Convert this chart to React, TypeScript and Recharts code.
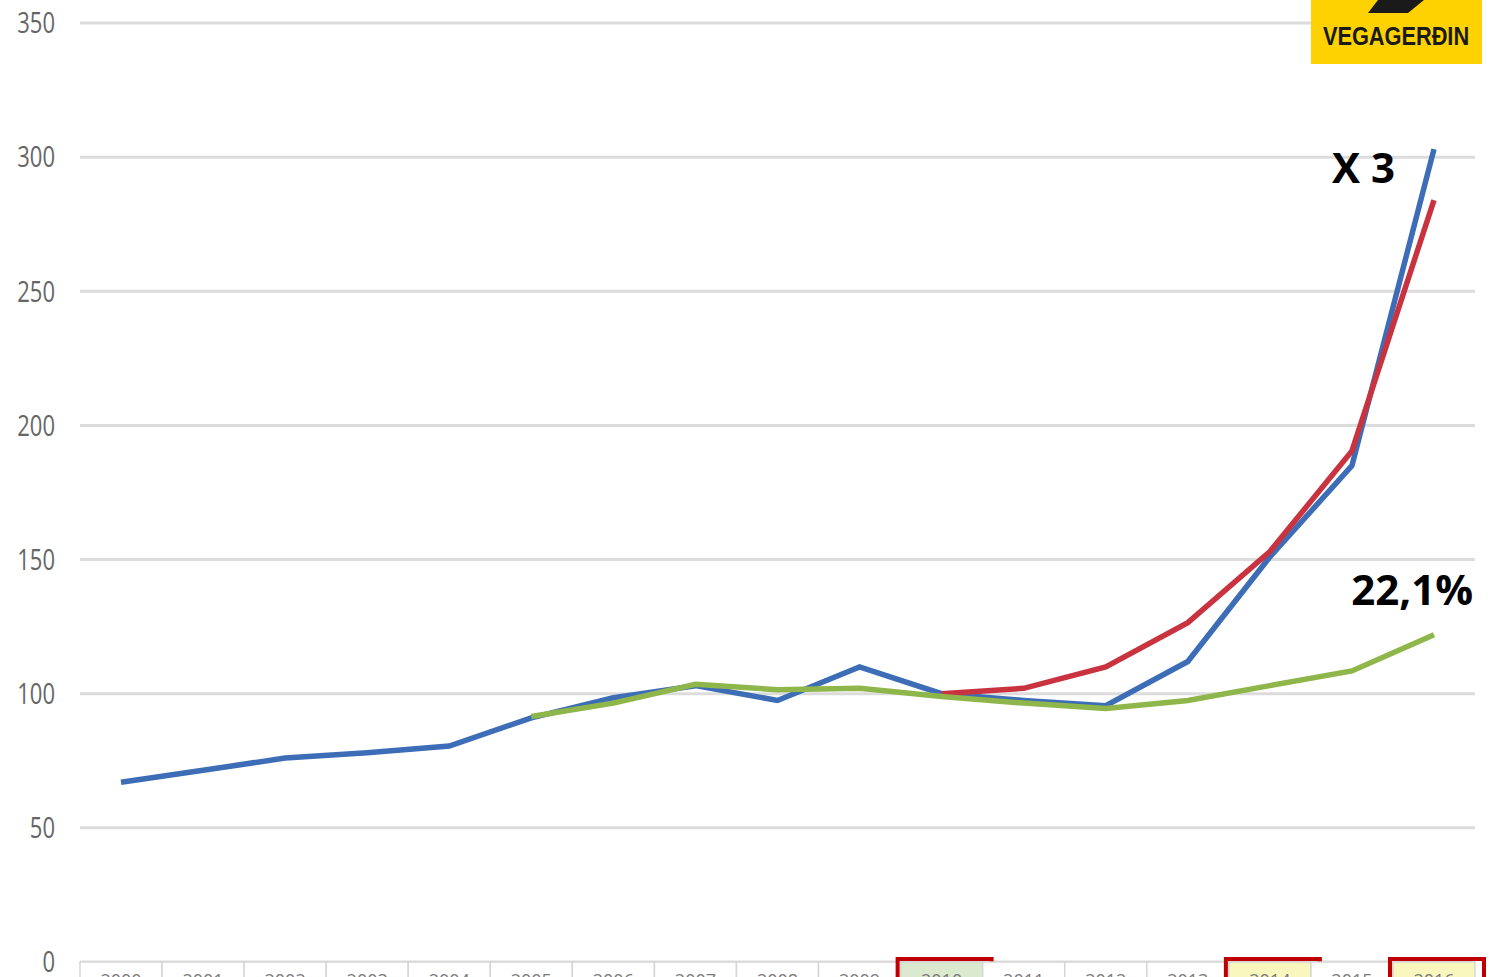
import React from 'react';
import { LineChart, Line, XAxis, YAxis, CartesianGrid } from 'recharts';

const YEARS = ['2000', '2001', '2002', '2003', '2004', '2005', '2006', '2007', '2008', '2009', '2010', '2011', '2012', '2013', '2014', '2015', '2016'];
const BLUE_SERIES = [67, 71.5, 76, 78, 80.5, 91, 98.5, 103, 97.5, 110, 100, 97.5, 95.5, 112, 151, 185, 303];
const RED_SERIES = [null, null, null, null, null, null, null, null, null, null, 100, 102, 110, 126.5, 153, 190.5, 284];
const GREEN_SERIES = [null, null, null, null, null, 91.5, 96.5, 103.5, 101.5, 102, 99, 96.5, 94.5, 97.5, 103, 108.5, 122];
const Y_TICKS = [0, 50, 100, 150, 200, 250, 300, 350];
const GREEN_CELLS = ['2010'];
const YELLOW_CELLS = ['2014', '2016'];

const data = YEARS.map((year, i) => ({
  year,
  blue: BLUE_SERIES[i],
  red: RED_SERIES[i],
  green: GREEN_SERIES[i],
}));

const YearCell = (props: any) => {
  const { x, y, payload } = props;
  const year = payload.value;
  const isGreen = GREEN_CELLS.includes(year);
  const isYellow = YELLOW_CELLS.includes(year);
  const fill = isGreen ? '#dbe9cf' : isYellow ? '#f9f7bd' : '#ffffff';
  return (
    <g>
      <rect x={x - 41} y={y} width={82} height={40} fill={fill} stroke="#d6d6d6" strokeWidth={1.5} />
      <text x={x} y={y + 25} textAnchor="middle" fontSize={18} fontFamily="Open Sans" fill="#7a7a7a">
        {year}
      </text>
      {(isGreen || isYellow) && (
        <rect x={x - 44} y={y - 3} width={94} height={50} fill="none" stroke="#c00000" strokeWidth={4} />
      )}
    </g>
  );
};

const ValueTick = (props: any) => {
  const { x, y, payload } = props;
  return (
    <text
      transform={`translate(${x}, ${y}) scale(1, 1.3)`}
      textAnchor="end"
      dy="0.36em"
      fontSize={22}
      fontFamily="Open Sans"
      fill="#666666"
    >
      {payload.value}
    </text>
  );
};

const App: React.FC = () => {
  return (
    <div style={{ position: 'absolute', left: 0, top: 0, width: 1491, height: 977, background: '#fff' }}>
      <LineChart width={1491} height={977} data={data} margin={{ top: 23, right: 16, bottom: 0, left: 0 }}>
        <CartesianGrid vertical={false} stroke="#dcdcdc" strokeWidth={3} />
        <XAxis
          dataKey="year"
          axisLine={false}
          tickLine={false}
          tickSize={0}
          tickMargin={0}
          height={15}
          interval={0}
          padding={{ left: 41, right: 41 }}
          tick={<YearCell />}
        />
        <YAxis
          domain={[0, 350]}
          ticks={Y_TICKS}
          axisLine={false}
          tickLine={false}
          tickSize={0}
          tickMargin={25}
          width={80}
          tick={<ValueTick />}
        />
        <Line type="linear" dataKey="blue" name="Röð 1" stroke="#3d6db7" strokeWidth={5.5} dot={false} isAnimationActive={false} />
        <Line type="linear" dataKey="red" name="Röð 2" stroke="#c9333f" strokeWidth={5.5} dot={false} isAnimationActive={false} />
        <Line type="linear" dataKey="green" name="Röð 3" stroke="#8fb64a" strokeWidth={5.5} dot={false} isAnimationActive={false} />
      </LineChart>
      <svg
        width={1491}
        height={977}
        style={{ position: 'absolute', left: 0, top: 0, pointerEvents: 'none' }}
      >
        <rect x={1311} y={0} width={171} height={64} fill="#fdd200" />
        <polygon points="1378,0 1424,0 1408,13 1368,13" fill="#1a1a1a" />
        <text
          transform="translate(1396, 45) scale(0.87, 1)"
          textAnchor="middle"
          fontSize={25}
          fontWeight="bold"
          fontFamily="Liberation Sans"
          fill="#1a1a1a"
        >
          VEGAGERÐIN
        </text>
        <text x={1332} y={183} fontSize={42} fontWeight="bold" fontFamily="Open Sans" fill="#000">
          X 3
        </text>
        <text x={1473} y={605} textAnchor="end" fontSize={42} fontWeight="bold" fontFamily="Open Sans" fill="#000">
          22,1%
        </text>
      </svg>
    </div>
  );
};

export default App;
